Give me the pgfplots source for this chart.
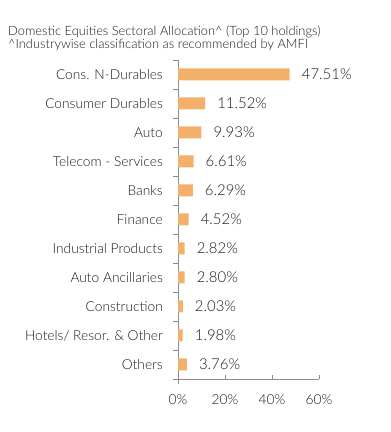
\documentclass[border=0pt]{standalone}
\usepackage{fontspec}
\setmainfont{Lato Light}
\usepackage{pgfplots}
\pgfplotsset{compat=1.18}
\definecolor{barc}{HTML}{F2B06B}
\definecolor{axc}{HTML}{8C8C8C}
\definecolor{txt}{HTML}{1A1A1A}
\begin{document}
\begin{tikzpicture}[x=1bp,y=1bp]
\begin{axis}[
  at={(178bp,53bp)}, anchor=south west,
  scale only axis, width=141bp, height=319bp,
  xbar, bar width=12bp,
  xmin=0, xmax=60, ymin=-0.5, ymax=10.5,
  axis x line*=bottom, axis y line*=left,
  axis line style={axc, line width=0.9bp},
  y axis line style={shorten <=-5bp},
  xtick={0,20,40,60},
  xticklabel={\pgfmathprintnumber{\tick}\%},
  ytick={0,...,10},
  yticklabels={Others, Hotels/ Resor. \& Other, Construction, Auto Ancillaries, Industrial Products, Finance, Banks, Telecom - Services, Auto, Consumer Durables, Cons. N-Durables},
  minor ytick={-0.5,0.5,...,10.5},
  tick align=inside,
  major tick length=4bp, minor tick length=5bp,
  major x tick style={axc, line width=0.9bp},
  major y tick style={draw=none},
  minor y tick style={axc, line width=0.9bp, xshift=-5bp},
  tick label style={font=\fontsize{13.8}{15}\selectfont, text=txt},
  yticklabel style={inner sep=0pt, xshift=-15bp},
  xticklabel style={inner sep=0pt, yshift=-15bp},
  /pgf/number format/assume math mode=true,
  nodes near coords={\pgfmathprintnumber[fixed,fixed zerofill,precision=2]{\pgfplotspointmeta}\%},
  nodes near coords style={anchor=west, inner sep=0pt, xshift=12bp, font=\fontsize{15}{16}\selectfont, text=txt},
  clip=false,
]
\addplot[fill=barc, draw=none] coordinates {
  (3.76,0) (1.98,1) (2.03,2) (2.80,3) (2.82,4) (4.52,5) (6.29,6) (6.61,7) (9.93,8) (11.52,9) (47.51,10)
};
\end{axis}
\node[anchor=base west, inner sep=0pt, text=txt, font=\fontsize{12.9}{14}\selectfont] at (8bp,396bp) {Domestic Equities Sectoral Allocation\^{} (Top 10 holdings)};
\node[anchor=base west, inner sep=0pt, text=txt, font=\fontsize{12.9}{14}\selectfont] at (8bp,383.5bp) {\^{}Industrywise classification as recommended by AMFI};
\pgfresetboundingbox
\useasboundingbox (0,0) rectangle (391bp,432bp);
\end{tikzpicture}
\end{document}
